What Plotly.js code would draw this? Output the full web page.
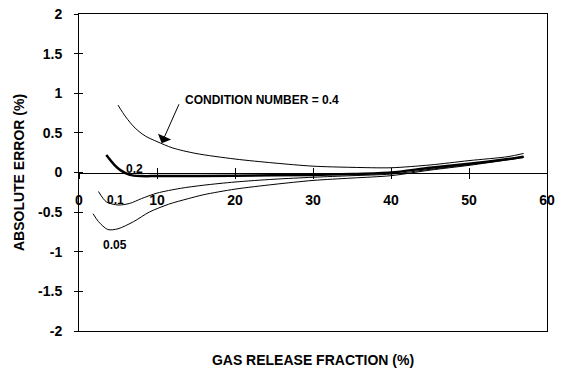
<!DOCTYPE html>
<html>
<head>
<meta charset="utf-8">
<script src="https://cdn.plot.ly/plotly-3.0.1.min.js"></script>
<style>
  html, body { margin: 0; padding: 0; background: #fff; }
  #chart { width: 564px; height: 382px; }
</style>
</head>
<body>
<div id="chart"></div>
<script>
// Gas release fraction (%) vs absolute error (%) for several condition numbers
const x04 = [5, 6, 7.2, 8.5, 10, 12, 15, 20, 25, 30, 35, 40, 45, 50, 55, 57];
const y04 = [0.85, 0.7, 0.56, 0.46, 0.39, 0.31, 0.24, 0.17, 0.12, 0.08, 0.065, 0.06, 0.095, 0.15, 0.2, 0.24];

const x02 = [3.5, 4.5, 5.3, 6.5, 8, 10, 20, 30, 35, 40, 45, 50, 55, 57];
const y02 = [0.22, 0.1, 0.03, -0.03, -0.045, -0.045, -0.04, -0.03, -0.02, 0.0, 0.06, 0.11, 0.17, 0.2];

const x01 = [2.5, 3.5, 5, 6.5, 8, 10, 13, 16, 20, 25, 30, 35, 40, 45, 50, 55, 57];
const y01 = [-0.24, -0.37, -0.41, -0.39, -0.33, -0.26, -0.2, -0.16, -0.12, -0.085, -0.06, -0.04, -0.02, 0.04, 0.1, 0.17, 0.2];

const x005 = [1.8, 2.5, 3.7, 5, 7, 9, 11.5, 14, 16, 20, 25, 30, 35, 40, 45, 50, 55, 57];
const y005 = [-0.52, -0.62, -0.72, -0.71, -0.62, -0.5, -0.4, -0.33, -0.28, -0.21, -0.15, -0.1, -0.07, -0.04, 0.03, 0.09, 0.16, 0.19];

const xTicks = [0, 10, 20, 30, 40, 50, 60];
const yTicks = [-2, -1.5, -1, -0.5, 0, 0.5, 1, 1.5, 2];
const yTickText = ['-2', '-1.5', '-1', '-0.5', '0', '0.5', '1', '1.5', '2'];

const FONT = 'Liberation Sans, Arial, Helvetica, sans-serif';
const boldFont = (size) => ({ family: FONT, size: size, color: '#000', weight: 700 });

const curve = (x, y, w) => ({
  x: x, y: y, type: 'scatter', mode: 'lines',
  line: { color: '#000', width: w, shape: 'spline', smoothing: 0.8 },
  hoverinfo: 'skip', showlegend: false
});

const traces = [
  curve(x04, y04, 1),
  curve(x02, y02, 2.5),
  curve(x01, y01, 1),
  curve(x005, y005, 1),
  // helpers so the overlay axes are built
  { x: [], y: [], xaxis: 'x2', yaxis: 'y2', type: 'scatter', mode: 'lines', showlegend: false },
  { x: [], y: [], xaxis: 'x3', yaxis: 'y', type: 'scatter', mode: 'lines', showlegend: false }
];

const layout = {
  width: 564, height: 382,
  margin: { l: 79, r: 17, t: 14, b: 51 },
  paper_bgcolor: '#fff', plot_bgcolor: '#fff',
  showlegend: false,
  // axis through y = 0 with labels below
  xaxis: {
    range: [0, 60], anchor: 'free', position: 0.5,
    tickvals: xTicks, ticks: 'outside', ticklen: 5, tickwidth: 1, tickcolor: '#000',
    showline: true, linecolor: '#000', linewidth: 1,
    showgrid: false, zeroline: false,
    tickfont: boldFont(14), ticklabelstandoff: 10
  },
  // upper half of the crossing ticks on y = 0
  xaxis2: {
    range: [0, 60], overlaying: 'x', anchor: 'free', position: 0.5,
    tickvals: xTicks, ticks: 'inside', ticklen: 5, tickwidth: 1, tickcolor: '#000',
    showticklabels: false, showline: false, showgrid: false, zeroline: false
  },
  // frame at bottom / top and the axis title
  xaxis3: {
    range: [0, 60], overlaying: 'x', anchor: 'y', side: 'bottom',
    showline: true, mirror: true, linecolor: '#000', linewidth: 1,
    ticks: '', showticklabels: false, showgrid: false, zeroline: false,
    title: { text: 'GAS RELEASE FRACTION (%)', font: boldFont(14), standoff: 24 }
  },
  yaxis: {
    range: [-2, 2], anchor: 'x',
    tickvals: yTicks, ticktext: yTickText,
    ticks: 'outside', ticklen: 4, tickwidth: 1, tickcolor: '#000',
    showline: true, mirror: true, linecolor: '#000', linewidth: 1,
    showgrid: false, zeroline: false,
    tickfont: boldFont(14), ticklabelstandoff: 9,
    title: { text: 'ABSOLUTE ERROR (%)', font: boldFont(14), standoff: 10 }
  },
  yaxis2: {
    range: [-2, 2], overlaying: 'y', anchor: 'x', side: 'left',
    tickvals: yTicks, ticks: 'inside', ticklen: 4, tickwidth: 1, tickcolor: '#000',
    showticklabels: false, showline: false, showgrid: false, zeroline: false
  },
  annotations: [
    { x: 13.3, y: 0.91, xref: 'x', yref: 'y', text: 'CONDITION NUMBER = 0.4',
      showarrow: false, xanchor: 'left', yanchor: 'middle', font: boldFont(12) },
    { x: 10.6, y: 0.37, xref: 'x', yref: 'y', axref: 'x', ayref: 'y', ax: 12.9, ay: 0.88,
      text: '', showarrow: true, arrowhead: 1, arrowsize: 2.4, arrowwidth: 1, arrowcolor: '#000' },
    { x: 7.1, y: 0.05, xref: 'x', yref: 'y', text: '0.2', showarrow: false, font: boldFont(12) },
    { x: 4.7, y: -0.35, xref: 'x', yref: 'y', text: '0.1', showarrow: false, font: boldFont(12) },
    { x: 4.6, y: -0.91, xref: 'x', yref: 'y', text: '0.05', showarrow: false, font: boldFont(12) }
  ]
};

Plotly.newPlot('chart', traces, layout, { displayModeBar: false, staticPlot: true });
</script>
</body>
</html>
